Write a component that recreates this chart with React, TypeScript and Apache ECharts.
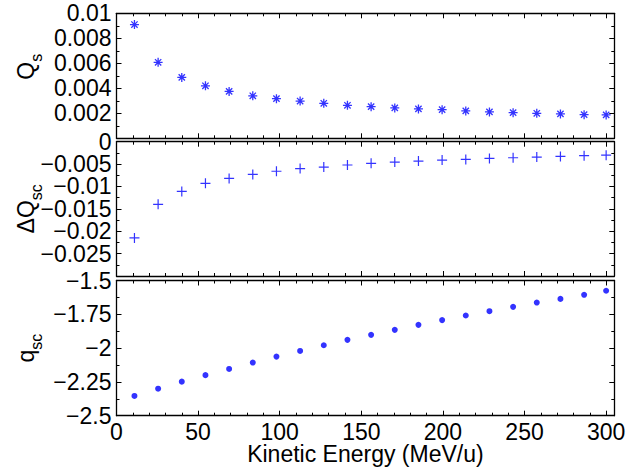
import React, { useEffect, useRef } from "react";
import * as echarts from "echarts";

const energy = [11, 25.5, 40, 54.5, 69, 83.5, 98, 112.5, 127, 141.5, 156, 170.5, 185, 199.5, 214, 228.5, 243, 257.5, 272, 286.5, 300];
const qsValues = [0.0091, 0.00608, 0.00487, 0.0042, 0.00375, 0.0034, 0.00317, 0.00298, 0.0028, 0.00264, 0.00253, 0.00243, 0.00235, 0.00229, 0.00219, 0.00211, 0.00205, 0.002, 0.00195, 0.00189, 0.00187];
const dqscValues = [-0.0215, -0.014, -0.0111, -0.0093, -0.0082, -0.0073, -0.0066, -0.006, -0.00567, -0.0052, -0.00484, -0.00456, -0.00433, -0.0041, -0.00396, -0.00373, -0.00358, -0.00344, -0.00329, -0.00313, -0.003];
const qscValues = [-2.354, -2.3, -2.248, -2.2, -2.154, -2.107, -2.063, -2.021, -1.979, -1.939, -1.902, -1.865, -1.828, -1.793, -1.759, -1.727, -1.695, -1.663, -1.636, -1.606, -1.576];

const xTicks = [0, 50, 100, 150, 200, 250, 300];

const FONT = "'Liberation Sans', Arial, Helvetica, sans-serif";
const FS = 23;
const SUB = 16;
const BLUE = "#0000ff";

const fmtNum = (v: number, d: number) => {
  const s = String(+Math.abs(v).toFixed(d));
  return (v < 0 ? "\u2212" : "") + s;
};

const asterisk = "path://M0,5L10,5M5,0L5,10M1.5,1.5L8.5,8.5M8.5,1.5L1.5,8.5";
const plus = "path://M0,5L10,5M5,0L5,10";

export default function App() {
  const ref = useRef<HTMLDivElement>(null);
  useEffect(() => {
    document.body.style.margin = "0";
    if (!ref.current) return;
    const chart = echarts.init(ref.current, undefined, { renderer: "svg" });
    const left = 116.5;
    const right = 13.7;
    const gridBase = { left, right, containLabel: false, outerBoundsMode: "none" };
    const grids = [
      { ...gridBase, top: 13.3, height: 125 },
      { ...gridBase, top: 141.7, height: 134.3 },
      { ...gridBase, top: 280.5, height: 135.2 },
    ];
    const lineStyle = { color: "#000", width: 1.3 };
    const tickStyle = { color: "#000", width: 1 };
    const xAxes: any[] = [];
    const yAxes: any[] = [];
    grids.forEach((_, g) => {
      const base = {
        type: "value",
        gridIndex: g,
        min: 0,
        max: 305,
        splitLine: { show: false },
      };
      const showLab = g === 2;
      xAxes.push({
        ...base,
        position: "bottom",
        interval: 50,
        axisLine: { show: true, onZero: false, lineStyle },
        axisTick: { show: true, inside: true, length: 5, lineStyle: tickStyle },
        axisLabel: showLab
          ? {
              show: true,
              margin: 5,
              color: "#000",
              fontFamily: FONT,
              fontSize: FS,
              showMinLabel: true,
              formatter: (v: number) => (xTicks.includes(v) ? String(v) : ""),
            }
          : { show: false },
        name: showLab ? "Kinetic Energy (MeV/u)" : "",
        nameLocation: "middle",
        nameGap: 27,
        nameMoveOverlap: false,
        nameTextStyle: { color: "#000", fontFamily: FONT, fontSize: FS },
      });
      xAxes.push({
        ...base,
        position: "bottom",
        interval: 10,
        axisLine: { show: false, onZero: false },
        axisTick: { show: true, inside: true, length: 3, lineStyle: tickStyle },
        axisLabel: { show: false },
      });
      xAxes.push({
        ...base,
        position: "top",
        interval: 50,
        axisLine: { show: true, onZero: false, lineStyle },
        axisTick: { show: true, inside: true, length: 5, lineStyle: tickStyle },
        axisLabel: { show: false },
      });
      xAxes.push({
        ...base,
        position: "top",
        interval: 10,
        axisLine: { show: false, onZero: false },
        axisTick: { show: true, inside: true, length: 3, lineStyle: tickStyle },
        axisLabel: { show: false },
      });
    });

    const yConf = [
      { min: 0, max: 0.01, interval: 0.002, showMin: false, showMax: true, d: 3, name: "{m|Q}{s|s}", pad: [0, 0, 0, 18] },
      { min: -0.03, max: 0, interval: 0.005, showMin: false, showMax: false, d: 3, name: "{m|\u0394Q}{s|sc}", pad: [0, 0, 0, 0] },
      { min: -2.5, max: -1.5, interval: 0.25, showMin: true, showMax: true, d: 2, name: "{m|q}{s|sc}", pad: [0, 0, 0, 0] },
    ];
    const labelBase = {
      show: true,
      margin: 5,
      color: "#000",
      fontFamily: FONT,
      fontSize: FS,
      hideOverlap: false,
    };
    yConf.forEach((c, g) => {
      const base = {
        type: "value",
        gridIndex: g,
        min: c.min,
        max: c.max,
        interval: c.interval,
        splitLine: { show: false },
        minorTick: { show: true, splitNumber: 2, length: 3, lineStyle: tickStyle },
      };
      yAxes.push({
        ...base,
        position: "left",
        axisLine: { show: true, onZero: false, lineStyle },
        axisTick: { show: true, inside: true, length: 5, lineStyle: tickStyle },
        axisLabel: {
          ...labelBase,
          showMinLabel: c.showMin,
          showMaxLabel: c.showMax,
          formatter: (v: number) => fmtNum(v, c.d),
        },
        name: c.name,
        nameLocation: "middle",
        nameRotate: 90,
        nameGap: 72,
        nameMoveOverlap: false,
        nameTextStyle: {
          color: "#000",
          fontFamily: FONT,
          padding: c.pad,
          rich: {
            m: { fontSize: FS, fontFamily: FONT, color: "#000", lineHeight: 37, verticalAlign: "middle" },
            s: { fontSize: SUB, fontFamily: FONT, color: "#000", lineHeight: 16, verticalAlign: "bottom" },
          },
        },
      });
      yAxes.push({
        ...base,
        position: "right",
        axisLine: { show: true, onZero: false, lineStyle },
        axisTick: { show: true, inside: true, length: 5, lineStyle: tickStyle },
        axisLabel: { show: false },
      });
    });
    // extra label-only axis for the "0" at the top of the middle panel
    yAxes.push({
      type: "value",
      gridIndex: 1,
      position: "left",
      min: -0.03,
      max: 0,
      interval: 0.03,
      splitLine: { show: false },
      axisLine: { show: false, onZero: false },
      axisTick: { show: false },
      axisLabel: {
        ...labelBase,
        showMinLabel: false,
        showMaxLabel: true,
        formatter: (v: number) => fmtNum(v, 3),
      },
    });

    const mk = (ys: number[]) => energy.map((x, i) => [x, ys[i]]);
    chart.setOption({
      animation: false,
      backgroundColor: "#fff",
      grid: grids,
      xAxis: xAxes,
      yAxis: yAxes,
      series: [
        {
          type: "scatter",
          xAxisIndex: 0,
          yAxisIndex: 0,
          symbol: asterisk,
          symbolSize: 9,
          itemStyle: { color: BLUE, borderColor: BLUE, borderWidth: 1.3 },
          data: mk(qsValues),
        },
        {
          type: "scatter",
          xAxisIndex: 4,
          yAxisIndex: 2,
          symbol: plus,
          symbolSize: 10,
          itemStyle: { color: BLUE, borderColor: BLUE, borderWidth: 1.2 },
          data: mk(dqscValues),
        },
        {
          type: "scatter",
          xAxisIndex: 8,
          yAxisIndex: 4,
          symbol: "circle",
          symbolSize: 6,
          itemStyle: { color: BLUE },
          data: mk(qscValues),
        },
      ],
    });
    return () => chart.dispose();
  }, []);
  return <div ref={ref} style={{ width: 628, height: 473 }} />;
}
